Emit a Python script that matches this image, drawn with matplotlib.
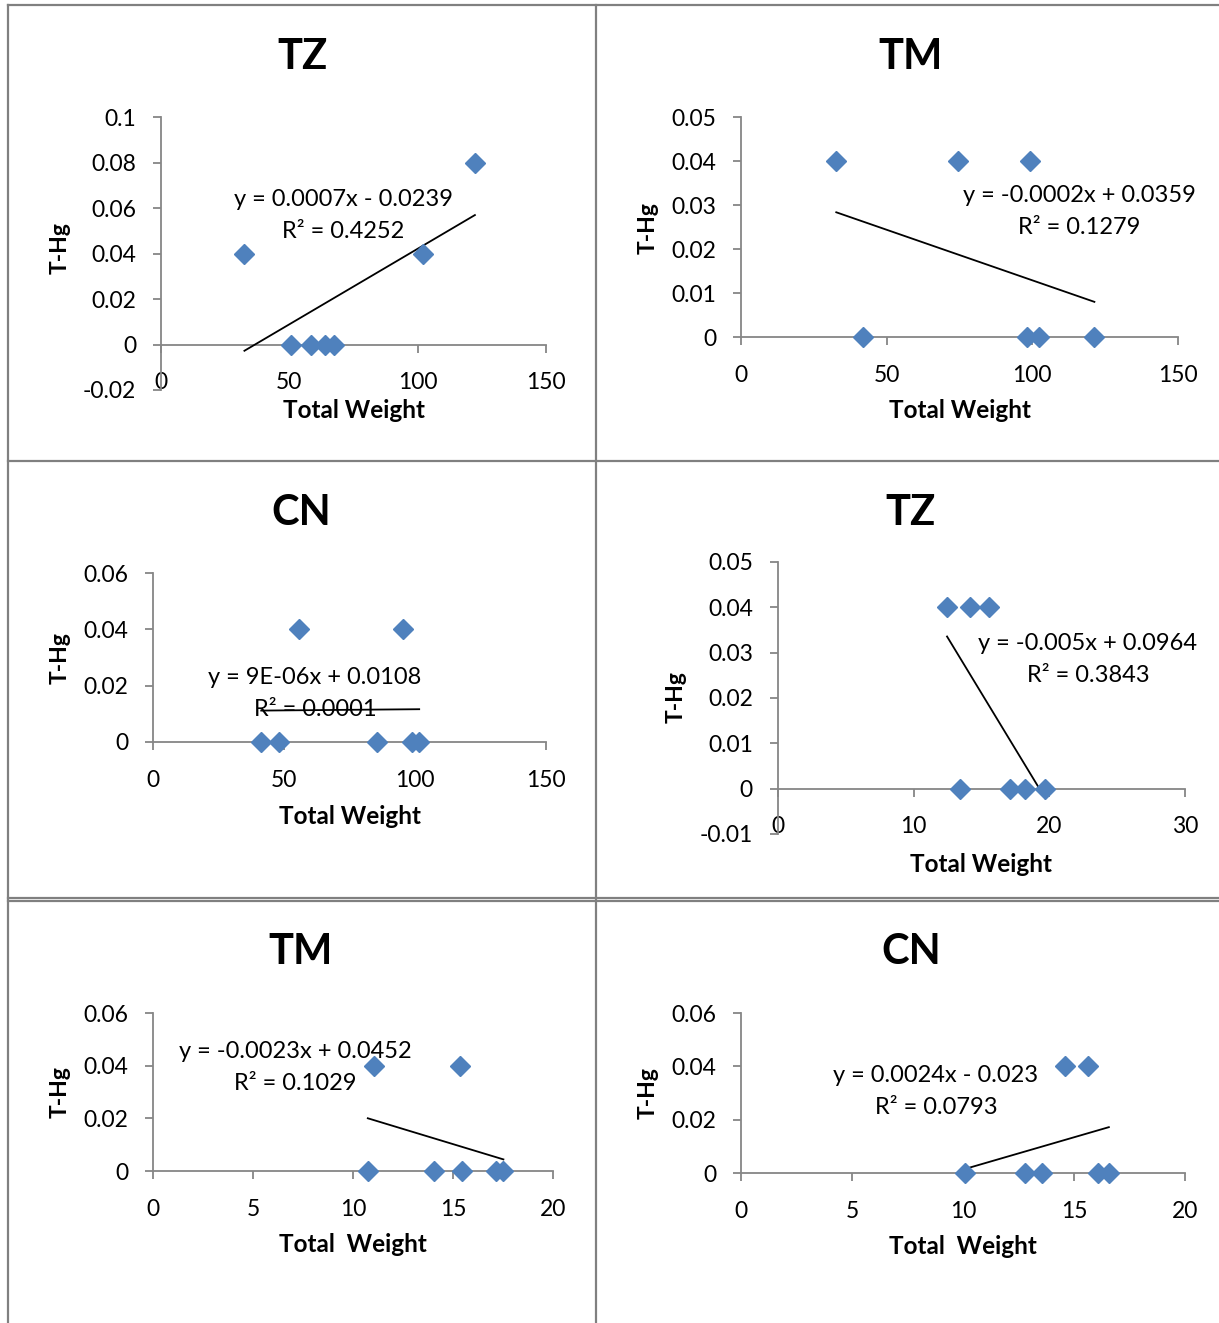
import numpy as np
import matplotlib
matplotlib.use("Agg")
import matplotlib.pyplot as plt
from matplotlib.lines import Line2D

plt.rcParams['font.family'] = ['Lato', 'DejaVu Sans']

W, H = 1219, 1323

# ==============================================================================
# Data (Total Weight vs T-Hg)
# ==============================================================================
titles = ["TZ", "TM", "CN", "TZ", "TM", "CN"]

x_tz1 = [32.5, 50.6, 58.4, 63.9, 67.5, 102.2, 122.3]
y_tz1 = [0.04, 0.0, 0.0, 0.0, 0.0, 0.04, 0.08]

x_tm1 = [32.7, 42.0, 74.6, 98.2, 99.2, 102.2, 121.3]
y_tm1 = [0.04, 0.0, 0.04, 0.0, 0.04, 0.0, 0.0]

x_cn1 = [41.3, 48.0, 55.9, 85.5, 95.4, 99.0, 101.6]
y_cn1 = [0.0, 0.0, 0.04, 0.0, 0.04, 0.0, 0.0]

x_tz2 = [12.46, 13.39, 14.16, 15.53, 17.1, 18.2, 19.7]
y_tz2 = [0.04, 0.0, 0.04, 0.04, 0.0, 0.0, 0.0]

x_tm2 = [10.74, 11.07, 14.04, 15.35, 15.44, 17.14, 17.52]
y_tm2 = [0.0, 0.04, 0.0, 0.04, 0.0, 0.0, 0.0]

x_cn2 = [10.09, 12.78, 13.56, 14.59, 15.64, 16.08, 16.57]
y_cn2 = [0.0, 0.0, 0.0, 0.04, 0.04, 0.0, 0.0]

equations = ["y = 0.0007x - 0.0239", "y = -0.0002x + 0.0359", "y = 9E-06x + 0.0108",
             "y = -0.005x + 0.0964", "y = -0.0023x + 0.0452", "y = 0.0024x - 0.023"]
r2_texts = ["R² = 0.4252", "R² = 0.1279", "R² = 0.0001",
            "R² = 0.3843", "R² = 0.1029", "R² = 0.0793"]

x_ticks = [[0, 50, 100, 150], [0, 50, 100, 150], [0, 50, 100, 150],
           [0, 10, 20, 30], [0, 5, 10, 15, 20], [0, 5, 10, 15, 20]]
y_ticks = [[-0.02, 0, 0.02, 0.04, 0.06, 0.08, 0.1],
           [0, 0.01, 0.02, 0.03, 0.04, 0.05],
           [0, 0.02, 0.04, 0.06],
           [-0.01, 0, 0.01, 0.02, 0.03, 0.04, 0.05],
           [0, 0.02, 0.04, 0.06],
           [0, 0.02, 0.04, 0.06]]
x_labels = ["Total Weight", "Total Weight", "Total Weight",
            "Total Weight", "Total  Weight", "Total  Weight"]

xs = [x_tz1, x_tm1, x_cn1, x_tz2, x_tm2, x_cn2]
ys = [y_tz1, y_tm1, y_cn1, y_tz2, y_tm2, y_cn2]

# ==============================================================================
# Layout (pixel boxes of each plot area and its texts)
# ==============================================================================
# axes box: left, right, top, bottom
boxes = [(161, 546, 117, 390), (741, 1178, 117, 337), (153, 546, 573, 742),
         (778, 1185, 562, 834), (153, 553, 1013, 1171), (741, 1185, 1013, 1173)]
title_pos = [(302, 57), (911, 57), (301, 513), (911, 513), (301, 952), (911, 952)]
ylab_pos = [(60, 248), (648, 228), (60, 658), (676, 697), (60, 1092), (648, 1093)]
xlab_pos = [(354, 411), (960, 411), (350, 816), (981, 865), (353, 1245), (963, 1247)]
eq_pos = [(343, 200), (1079, 195), (315, 677), (1088, 643), (295, 1052), (936, 1076)]

blue = "#4F81BD"
gray = "#868686"


def fx(px):
    return px / W


def fy(py):
    return 1 - py / H


fig = plt.figure(figsize=(W / 100, H / 100), dpi=100)

for i in range(6):
    l, r, t, b = boxes[i]
    ax = fig.add_axes([fx(l), fy(b), fx(r - l), (b - t) / H])
    ax.set_facecolor("none")

    ax.set_xlim(x_ticks[i][0], x_ticks[i][-1])
    ax.set_ylim(y_ticks[i][0], y_ticks[i][-1])

    ax.spines['left'].set_position(('data', 0))
    ax.spines['bottom'].set_position(('data', 0))
    ax.spines['top'].set_visible(False)
    ax.spines['right'].set_visible(False)
    for s in ('left', 'bottom'):
        ax.spines[s].set_color(gray)
        ax.spines[s].set_linewidth(1.3)

    ax.set_xticks(x_ticks[i])
    ax.set_xticklabels([f"{v:g}" for v in x_ticks[i]])
    ax.set_yticks(y_ticks[i])
    ax.set_yticklabels([f"{v:g}" for v in y_ticks[i]])
    ax.tick_params(axis='x', direction='out', length=6, width=1.3, color=gray,
                   pad=14, labelsize=16.5)
    ax.tick_params(axis='y', direction='out', length=6, width=1.3, color=gray,
                   pad=12, labelsize=16.5)

    # trendline (least squares over the plotted points)
    xa = np.array(xs[i])
    ya = np.array(ys[i])
    k, c = np.polyfit(xa, ya, 1)
    xl = np.array([xa.min(), xa.max()])
    ax.plot(xl, k * xl + c, color="black", lw=1.3, zorder=3, clip_on=False)

    ax.plot(xa, ya, linestyle="none", marker="D", ms=10, color=blue,
            markeredgecolor=blue, zorder=4, clip_on=False)

    fig.text(fx(title_pos[i][0]), fy(title_pos[i][1]), titles[i], fontsize=30,
             fontweight="bold", ha="center", va="center")
    fig.text(fx(ylab_pos[i][0]), fy(ylab_pos[i][1]), "T-Hg", fontsize=16.5,
             fontweight="bold", rotation=90, ha="center", va="center")
    fig.text(fx(xlab_pos[i][0]), fy(xlab_pos[i][1]), x_labels[i], fontsize=17.5,
             fontweight="bold", ha="center", va="center")
    fig.text(fx(eq_pos[i][0]), fy(eq_pos[i][1]), equations[i], fontsize=17,
             ha="center", va="center", zorder=5)
    fig.text(fx(eq_pos[i][0]), fy(eq_pos[i][1] + 32), r2_texts[i], fontsize=17,
             ha="center", va="center", zorder=2)

# ==============================================================================
# Cell borders
# ==============================================================================
border = dict(color="#808080", lw=1.6, transform=fig.transFigure)
fig.add_artist(Line2D([fx(8), fx(1219)], [fy(5), fy(5)], **border))
fig.add_artist(Line2D([fx(8), fx(8)], [fy(5), fy(1323)], **border))
fig.add_artist(Line2D([fx(596), fx(596)], [fy(5), fy(1323)], **border))
fig.add_artist(Line2D([fx(8), fx(1219)], [fy(461), fy(461)], **border))
fig.add_artist(Line2D([fx(8), fx(1219)], [fy(898), fy(898)], **border))
fig.add_artist(Line2D([fx(8), fx(1219)], [fy(901), fy(901)], **border))

fig.savefig("out.png", dpi=100)
